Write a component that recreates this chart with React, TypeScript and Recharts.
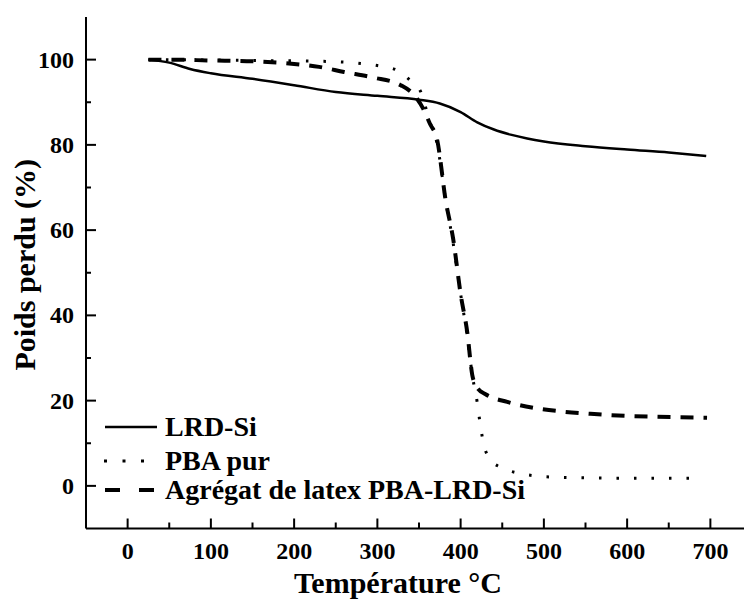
import React from 'react';
import { LineChart, Line, XAxis, YAxis, Legend, Label } from 'recharts';

const FONT = "'Liberation Serif', Tinos, 'Times New Roman', 'DejaVu Serif', serif";

// LRD-Si (solid)
const lrdTemp = [25, 50, 75, 100, 150, 200, 250, 300, 350, 375, 400, 420, 440, 460, 480, 500, 550, 600, 650, 695];
const lrdWeight = [100, 99.3, 97.8, 96.8, 95.5, 94, 92.4, 91.5, 90.6, 89.7, 87.7, 85.3, 83.6, 82.4, 81.5, 80.8, 79.7, 78.9, 78.2, 77.4];

// PBA pur (dotted)
const pbaTemp = [25, 100, 150, 200, 250, 280, 300, 324, 340, 352, 362, 372, 382, 391, 400, 408, 414, 420, 424, 428, 436, 450, 469, 492, 520, 600, 680];
const pbaWeight = [100, 99.9, 99.8, 99.7, 99.5, 99.1, 98.6, 97.5, 95, 92.5, 86, 80, 67, 57, 45, 35, 26, 19.5, 13.8, 9.6, 6.1, 4.2, 3, 2.3, 2, 1.8, 1.8];

// Agrégat de latex PBA-LRD-Si (dashed)
const aggTemp = [25, 50, 100, 150, 200, 230, 260, 295, 328, 345, 355, 363, 372, 382, 391, 400, 408, 414, 420, 430, 456, 488, 524, 556, 600, 636, 696];
const aggWeight = [100, 100, 99.8, 99.6, 99, 98.3, 97.1, 95.8, 94, 91.5, 88.5, 85, 81, 67, 58, 45, 36, 26, 23, 21.5, 19.7, 18.3, 17.4, 16.9, 16.4, 16.2, 16];

const seriesNames = ['LRD-Si', 'PBA pur', 'Agrégat de latex PBA-LRD-Si'];

const xTicks = [0, 50, 100, 150, 200, 250, 300, 350, 400, 450, 500, 550, 600, 650, 700];
const xLabels = [0, 100, 200, 300, 400, 500, 600, 700];
const yTicks = [0, 10, 20, 30, 40, 50, 60, 70, 80, 90, 100];
const yLabels = [0, 20, 40, 60, 80, 100];

const toPoints = (t: number[], w: number[]) => t.map((x, i) => ({ x, y: w[i] }));
const lrdData = toPoints(lrdTemp, lrdWeight);
const pbaData = toPoints(pbaTemp, pbaWeight);
const aggData = toPoints(aggTemp, aggWeight);

const textStyle = { fontFamily: FONT, fontWeight: 700 };

const XTick = (props: any) => {
  const { x, y, payload } = props;
  const major = xLabels.includes(payload.value);
  return (
    <g>
      <line x1={x} x2={x} y1={y} y2={y - (major ? 10 : 6)} stroke="#000" strokeWidth={2} />
      {major && (
        <text x={x} y={y + 30.5} textAnchor="middle" fill="#000" style={{ ...textStyle, fontSize: 24 }}>
          {payload.value}
        </text>
      )}
    </g>
  );
};

const TopTick = (props: any) => {
  const { x, y } = props;
  return <line x1={x} x2={x} y1={y} y2={y + 3} stroke="#555" strokeWidth={1.5} />;
};

const YTick = (props: any) => {
  const { x, y, payload } = props;
  const major = yLabels.includes(payload.value);
  return (
    <g>
      <line x1={x} x2={x + (major ? 10 : 5)} y1={y} y2={y} stroke="#000" strokeWidth={2} />
      {major && (
        <text x={x - 12} y={y + 8} textAnchor="end" fill="#000" style={{ ...textStyle, fontSize: 24 }}>
          {payload.value}
        </text>
      )}
    </g>
  );
};

const renderXLabel = (props: any) => {
  const vb = props.viewBox || { x: 86, y: 528 };
  return (
    <text x={vb.x + 312} y={vb.y + 64.5} textAnchor="middle" fill="#000" style={{ ...textStyle, fontSize: 30 }}>
      Température °C
    </text>
  );
};

const renderYLabel = (props: any) => {
  const vb = props.viewBox || { y: 17, height: 511 };
  const cy = vb.y + vb.height / 2 - 8;
  return (
    <text x={35} y={cy} transform={`rotate(-90 35 ${cy})`} textAnchor="middle" fill="#000" style={{ ...textStyle, fontSize: 30 }}>
      Poids perdu (%)
    </text>
  );
};

const renderLegend = () => (
  <svg width={450} height={105}>
    <line x1={5} x2={57} y1={22} y2={22} stroke="#000" strokeWidth={2.5} />
    <text x={65} y={31} fill="#000" style={{ ...textStyle, fontSize: 28 }}>{seriesNames[0]}</text>
    <line x1={4} x2={46} y1={56} y2={56} stroke="#000" strokeWidth={3} strokeDasharray="3 15.5" />
    <text x={65} y={65} fill="#000" style={{ ...textStyle, fontSize: 28 }}>{seriesNames[1]}</text>
    <line x1={5} x2={57} y1={85} y2={85} stroke="#000" strokeWidth={4} strokeDasharray="15 19" />
    <text x={65} y={94} fill="#000" style={{ ...textStyle, fontSize: 28 }}>{seriesNames[2]}</text>
  </svg>
);

const App = () => {
  return (
    <div style={{ position: 'absolute', left: 0, top: 0, width: 744, height: 600, overflow: 'hidden', background: '#fff', fontFamily: FONT }}>
      <LineChart width={756} height={600} margin={{ top: 17, right: 4, bottom: 0, left: 0 }}>
        <XAxis
          type="number"
          dataKey="x"
          domain={[-50, 750]}
          allowDataOverflow
          ticks={xTicks}
          interval={0}
          tickSize={0}
          tickMargin={0}
          height={71.5}
          tick={XTick}
          axisLine={{ stroke: '#000', strokeWidth: 2 }}
        >
          <Label content={renderXLabel} />
        </XAxis>
        <XAxis
          xAxisId="top"
          orientation="top"
          type="number"
          domain={[-50, 750]}
          allowDataOverflow
          ticks={xTicks}
          interval={0}
          tickSize={0}
          tickMargin={0}
          height={0}
          tick={TopTick}
          axisLine={{ stroke: '#000', strokeWidth: 2 }}
        />
        <YAxis
          type="number"
          domain={[-10, 110]}
          allowDataOverflow
          ticks={yTicks}
          interval={0}
          tickSize={0}
          tickMargin={0}
          width={86}
          tick={YTick}
          axisLine={{ stroke: '#000', strokeWidth: 2 }}
        >
          <Label content={renderYLabel} />
        </YAxis>
        <Legend
          layout="vertical"
          align="center"
          verticalAlign="middle"
          content={renderLegend}
          wrapperStyle={{ position: 'absolute', left: 100, top: 405, right: 'auto', bottom: 'auto', width: 450, height: 105 }}
        />
        <Line data={lrdData} dataKey="y" name={seriesNames[0]} type="monotone" stroke="#000" strokeWidth={2.5} dot={false} isAnimationActive={false} />
        <Line data={pbaData} dataKey="y" name={seriesNames[1]} type="monotone" stroke="#000" strokeWidth={3} strokeDasharray="2.5 15" dot={false} isAnimationActive={false} />
        <Line data={aggData} dataKey="y" name={seriesNames[2]} type="monotone" stroke="#000" strokeWidth={4} strokeDasharray="13 10" dot={false} isAnimationActive={false} />
      </LineChart>
    </div>
  );
};

export default App;
